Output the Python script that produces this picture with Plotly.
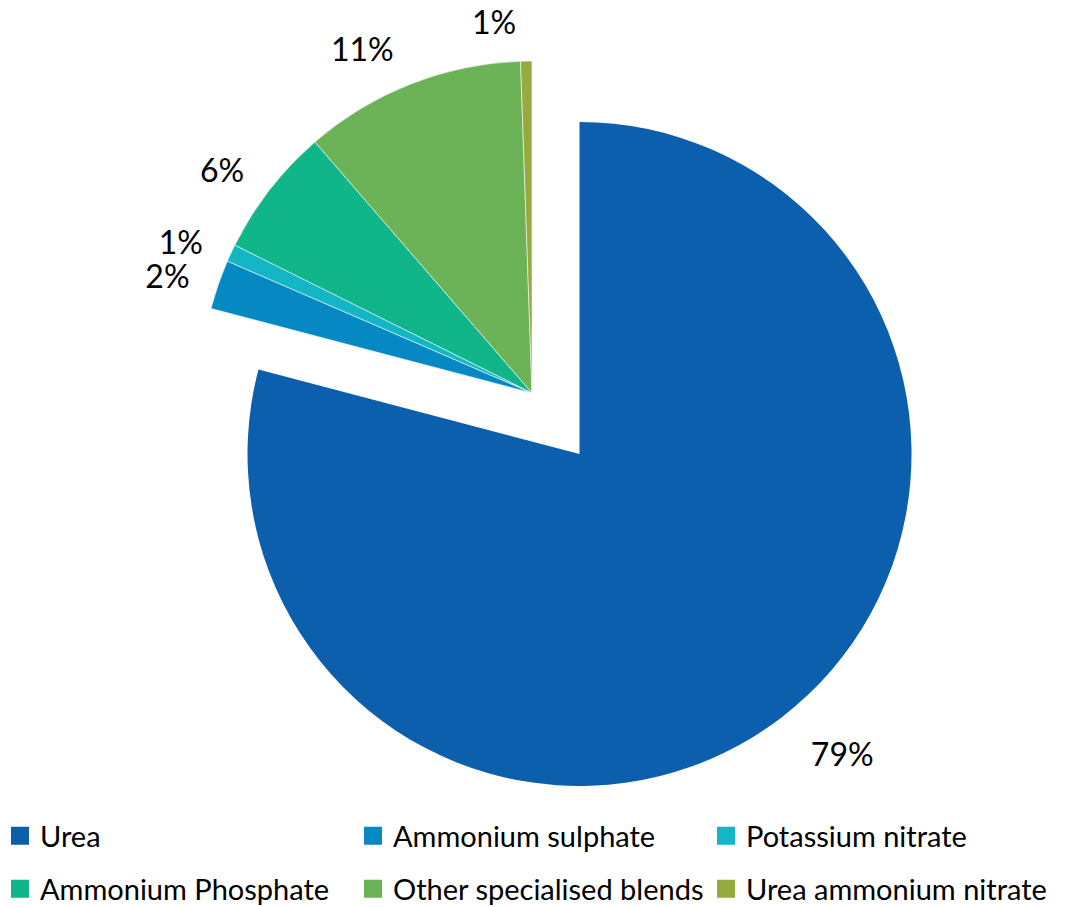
import plotly.graph_objects as go

labels = ["Urea", "Ammonium sulphate", "Potassium nitrate",
          "Ammonium Phosphate", "Other specialised blends", "Urea ammonium nitrate"]
values = [79.1, 2.4, 0.85, 6.3, 10.8, 0.55]
colors = ["#0C5FAD", "#0689C3", "#12B6C4", "#10B689", "#6CB257", "#95AA3F"]

CLEAR = "rgba(0,0,0,0)"
TEXT_FONT = dict(family="Lato, Open Sans, sans-serif", size=32, color="#000000")
PCT = "%{percent:.0%}"
n = len(labels)

# slice geometry
dom_main = dict(x=[0.2324, 0.8559], y=[0.1334, 0.8655])    # Urea in place
dom_pull = dict(x=[0.1878, 0.8113], y=[0.2007, 0.9327])    # rest, exploded together
# label rings (same centres, labels set further out as in the original)
dom_main_lbl = dict(x=[0.2033, 0.8850], y=[0.0992, 0.8997])
dom_pull_lbl = dict(x=[0.1690, 0.8300], y=[0.1786, 0.9548])

common = dict(labels=labels, values=values, sort=False,
              direction="clockwise", rotation=0, showlegend=False)

fig = go.Figure()
# Urea slice
fig.add_trace(go.Pie(
    **common,
    marker=dict(colors=[colors[0]] + [CLEAR] * (n - 1), line=dict(width=0)),
    textinfo="none", domain=dom_main, hoverinfo="label+percent",
))
# exploded slices
fig.add_trace(go.Pie(
    **common,
    marker=dict(colors=[CLEAR] + colors[1:],
                line=dict(width=[0] + [0.8] * (n - 1), color="rgba(255,255,255,0.7)")),
    textinfo="none", domain=dom_pull, hoverinfo="label+percent",
))

# percentage labels (text-only rings; split so labels are not shifted)
def label_ring(template, domain):
    return go.Pie(
        **common,
        marker=dict(colors=[CLEAR] * n, line=dict(width=0)),
        texttemplate=template, textposition="outside", textfont=TEXT_FONT,
        domain=domain, hoverinfo="skip",
    )

fig.add_trace(label_ring([PCT, "", "", "", "", ""], dom_main_lbl))
fig.add_trace(label_ring(["", PCT, "", PCT, PCT, ""], dom_pull_lbl))
fig.add_trace(label_ring(["", "", PCT, "", "", PCT], dom_pull_lbl))

# legend entries (two rows of three)
for i, (lab, col) in enumerate(zip(labels, colors)):
    fig.add_trace(go.Scatter(
        x=[None], y=[None], mode="markers", name=lab,
        marker=dict(symbol="square", size=16, color=col, line=dict(width=2, color=col)),
        legend="legend" if i < 3 else "legend2",
    ))

LEG_FONT = dict(family="Lato, Open Sans, sans-serif", size=29, color="#000000")
leg_common = dict(orientation="h", x=0.0, xanchor="left", yanchor="middle",
                  font=LEG_FONT, entrywidth=308, entrywidthmode="pixels",
                  itemsizing="trace", bgcolor="rgba(0,0,0,0)", borderwidth=0)

fig.update_layout(
    width=1065, height=907,
    margin=dict(l=0, r=0, t=0, b=0, autoexpand=False),
    paper_bgcolor="white", plot_bgcolor="white",
    xaxis=dict(visible=False), yaxis=dict(visible=False),
    legend=dict(y=1 - 836 / 907, **leg_common),
    legend2=dict(y=1 - 889 / 907, **leg_common),
)

fig.write_html("out.html")
